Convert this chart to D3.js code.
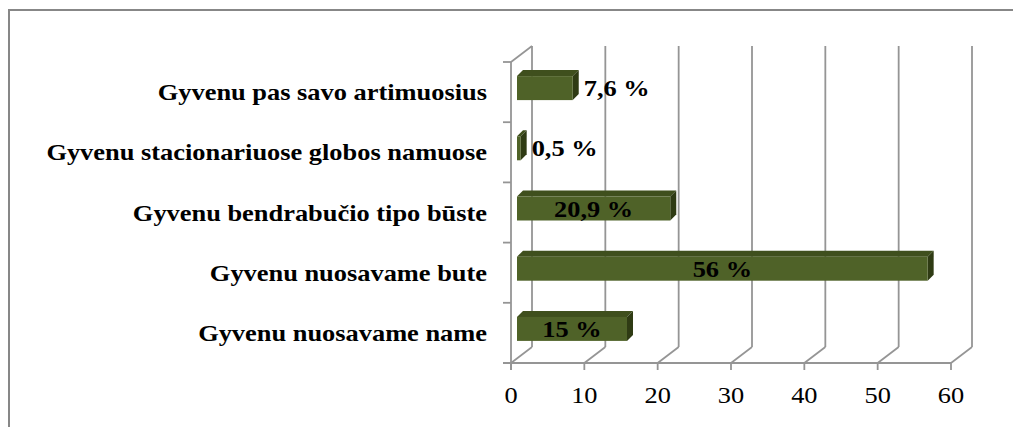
<!DOCTYPE html>
<html>
<head>
<meta charset="utf-8">
<script src="https://cdn.jsdelivr.net/npm/d3@7"></script>
<style>
  body { margin: 0; background: #fff; }
  svg { display: block; }
  text { font-family: "Liberation Serif", "Times New Roman", serif; fill: #000; }
</style>
</head>
<body>
<div id="chart"></div>
<script>
// categories top to bottom, with their values (%)
const categories = [
    "Gyvenu pas savo artimuosius",
    "Gyvenu stacionariuose globos namuose",
    "Gyvenu bendrabučio tipo būste",
    "Gyvenu nuosavame bute",
    "Gyvenu nuosavame name"
]
const values = [7.6, 0.5, 20.9, 56, 15]
const xTicks = [0, 10, 20, 30, 40, 50, 60]

const width = 1013
const height = 427
const plot = { left: 511, right: 951, top: 62, bottom: 363 }
const depth = { dx: 21, dy: -16 }     // 3d wall depth
const barOff = { dx: 6, dy: -4 }      // bar front face position inside the depth
const barDepth = { dx: 6, dy: -6 }
const barH = 24
const stretch = 1.1                   // the original text is a bit wide

const data = categories.map((c, i) => ({ name: c, value: values[i] }))

const svg = d3.select("#chart").append("svg").attr("width", width).attr("height", height)

// outer frame
svg.append("rect")
    .attr("x", 9).attr("y", 10).attr("width", width + 20).attr("height", height + 20)
    .attr("fill", "none").attr("stroke", "#878787").attr("stroke-width", 2)

const x = d3.scaleLinear().domain([0, 60]).range([plot.left, plot.right])
const y = d3.scaleBand().domain(categories).range([plot.top, plot.bottom])

// text placed at (px, py) and widened a little
function addText(parent, px, py, str, anchor, bold) {
    const t = parent.append("g")
        .attr("transform", `translate(${px},${py}) scale(${stretch},1)`)
        .append("text")
        .attr("text-anchor", anchor)
        .style("font-size", "24px")
        .text(str)
    if (bold) t.style("font-weight", "bold")
    return t
}

const grid = svg.append("g").attr("stroke", "#959595").attr("stroke-width", 1.8).attr("fill", "none")

// back wall gridlines
grid.selectAll(".back").data(xTicks).enter().append("line")
    .attr("x1", d => x(d) + depth.dx).attr("x2", d => x(d) + depth.dx)
    .attr("y1", plot.bottom + depth.dy).attr("y2", plot.top + depth.dy)

// floor diagonals
grid.selectAll(".floor").data(xTicks).enter().append("line")
    .attr("x1", d => x(d)).attr("x2", d => x(d) + depth.dx)
    .attr("y1", plot.bottom).attr("y2", plot.bottom + depth.dy)

// left wall
grid.append("line")
    .attr("x1", plot.left).attr("x2", plot.left)
    .attr("y1", plot.top).attr("y2", plot.bottom + 7)
grid.append("line")
    .attr("x1", plot.left).attr("x2", plot.left + depth.dx)
    .attr("y1", plot.top).attr("y2", plot.top + depth.dy)

// category ticks
const bounds = categories.map(c => y(c)).concat([plot.bottom])
grid.selectAll(".ctick").data(bounds).enter().append("line")
    .attr("x1", plot.left - 8).attr("x2", plot.left)
    .attr("y1", d => d).attr("y2", d => d)

// front x axis
grid.append("line")
    .attr("x1", plot.left - 8).attr("x2", x(60))
    .attr("y1", plot.bottom).attr("y2", plot.bottom)
grid.selectAll(".xtick").data(xTicks).enter().append("line")
    .attr("x1", d => x(d)).attr("x2", d => x(d))
    .attr("y1", plot.bottom).attr("y2", plot.bottom + 7)

const xLabels = svg.append("g")
xTicks.forEach(t => addText(xLabels, x(t), 403, t, "middle", false))

// bars
const bars = svg.append("g")
data.forEach(d => {
    const x0 = x(0) + barOff.dx
    const x1 = x(d.value) + barOff.dx
    const cy = y(d.name) + y.bandwidth() / 2 + barOff.dy
    const yt = cy - barH / 2
    const yb = cy + barH / 2
    const g = bars.append("g")
    g.append("polygon")
        .attr("points", [[x0, yt], [x0 + barDepth.dx, yt + barDepth.dy], [x1 + barDepth.dx, yt + barDepth.dy], [x1, yt]].join(" "))
        .attr("fill", "#3f4f1d")
    g.append("polygon")
        .attr("points", [[x1, yt], [x1 + barDepth.dx, yt + barDepth.dy], [x1 + barDepth.dx, yb + barDepth.dy], [x1, yb]].join(" "))
        .attr("fill", "#2f3b14")
    g.append("rect")
        .attr("x", x0).attr("y", yt).attr("width", x1 - x0).attr("height", barH)
        .attr("fill", "#4f6228")

    const label = d.value.toString().replace(".", ",") + " %"
    const probe = g.append("text").style("font-size", "24px").style("font-weight", "bold").text(label)
    const w = probe.node().getComputedTextLength() * stretch
    probe.remove()
    if (w + 8 < x1 - x0) {
        addText(g, (x0 + x1) / 2, cy + 8, label, "middle", true)
    } else {
        addText(g, x1 + barDepth.dx + 5, cy + 8, label, "start", true)
    }
})

// category labels
const yLabels = svg.append("g")
categories.forEach(c => addText(yLabels, 487, y(c) + y.bandwidth() / 2 + 8, c, "end", true))
</script>
</body>
</html>
